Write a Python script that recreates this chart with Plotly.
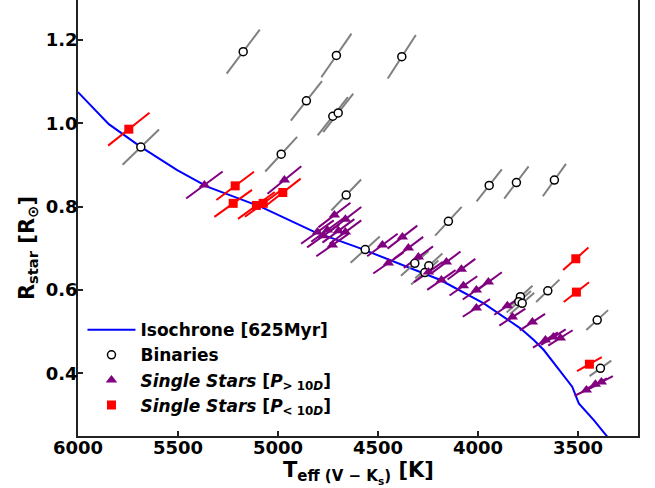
import plotly.graph_objects as go

# Isochrone [625 Myr]
iso_T = [6000, 5846, 5688, 5504, 5354, 5088, 4821, 4588, 4188, 3971, 3788, 3721, 3671, 3529, 3496, 3421, 3340]
iso_R = [1.075, 0.998, 0.944, 0.888, 0.848, 0.800, 0.740, 0.700, 0.624, 0.568, 0.508, 0.480, 0.456, 0.368, 0.328, 0.288, 0.240]

# Binaries
bin_T = [5174, 4708, 4858, 4726, 4699, 5686, 4984, 4659, 4381, 3944, 3808, 3618, 4148,
         4564, 4316, 4246, 4266, 3788, 3796, 3779, 3651, 3404, 3388]
bin_R = [1.172, 1.163, 1.054, 1.017, 1.025, 0.943, 0.926, 0.828, 1.160, 0.851, 0.858, 0.864, 0.765,
         0.697, 0.664, 0.658, 0.642, 0.584, 0.572, 0.568, 0.598, 0.528, 0.412]

# Single stars, P > 10 d
long_T = [5368, 4968, 4718, 4663, 4803, 4753, 4698, 4773, 4728, 4663, 4478, 4378, 4348, 4448, 4298, 4248,
          4158, 4083, 4183, 4073, 4008, 3948, 4008, 3853, 3828, 3728, 3663, 3623, 3588, 3458, 3413, 3383]
long_R = [0.852, 0.864, 0.780, 0.770, 0.739, 0.744, 0.742, 0.730, 0.708, 0.739, 0.708, 0.727, 0.701, 0.665, 0.679, 0.643,
          0.667, 0.650, 0.624, 0.610, 0.600, 0.619, 0.557, 0.562, 0.535, 0.523, 0.480, 0.487, 0.485, 0.360, 0.374, 0.379]

# Single stars, P < 10 d
short_T = [5746, 5214, 5224, 5108, 5074, 4976, 3511, 3508, 3443]
short_R = [0.986, 0.850, 0.808, 0.803, 0.808, 0.834, 0.675, 0.595, 0.422]

# fractional (correlated) uncertainties per group
bin_fT, bin_fR = 0.016, 0.045
long_fT, long_fR = 0.017, 0.038
short_fT, short_fR = 0.018, 0.040

x_ticks = [6000, 5500, 5000, 4500, 4000, 3500]
y_ticks = [0.4, 0.6, 0.8, 1.0, 1.2]


def err_segments(T, R, fT, fR):
    xs, ys = [], []
    for t, r in zip(T, R):
        dT, dR = fT * t, fR * r
        xs += [t + dT, t - dT, None]
        ys += [r - dR, r + dR, None]
    return xs, ys


fig = go.Figure()

fig.add_trace(go.Scatter(x=iso_T, y=iso_R, mode="lines", line=dict(color="#0000ff", width=2),
                         name="Isochrone [625Myr]"))

for T, R, fT, fR, col in [(bin_T, bin_R, bin_fT, bin_fR, "#808080"),
                          (long_T, long_R, long_fT, long_fR, "#800080"),
                          (short_T, short_R, short_fT, short_fR, "#ff0000")]:
    xs, ys = err_segments(T, R, fT, fR)
    fig.add_trace(go.Scatter(x=xs, y=ys, mode="lines", line=dict(color=col, width=2),
                             showlegend=False, hoverinfo="skip"))

fig.add_trace(go.Scatter(x=bin_T, y=bin_R, mode="markers", name="Binaries",
                         marker=dict(symbol="circle", size=8, color="white",
                                     line=dict(color="black", width=1.5))))
fig.add_trace(go.Scatter(x=long_T, y=long_R, mode="markers",
                         name="<i>Single Stars</i> [<i>P</i><sub>&gt; 10<i>D</i></sub>]",
                         marker=dict(symbol="triangle-up", size=10, color="#800080", line=dict(width=0))))
fig.add_trace(go.Scatter(x=short_T, y=short_R, mode="markers",
                         name="<i>Single Stars</i> [<i>P</i><sub>&lt; 10<i>D</i></sub>]",
                         marker=dict(symbol="square", size=9, color="#ff0000", line=dict(width=0))))

axis_common = dict(showline=True, linecolor="#222222", linewidth=1.5, ticks="inside", ticklen=5,
                   tickwidth=1.5, tickcolor="#222222", showgrid=False, zeroline=False,
                   ticklabelstandoff=-5,
                   tickfont=dict(family="DejaVu Sans", size=18, color="black", weight="bold"))

fig.update_layout(
    width=655, height=488,
    margin=dict(l=78, r=17, t=0, b=52),
    paper_bgcolor="white", plot_bgcolor="white",
    font=dict(family="DejaVu Sans", color="black"),
    xaxis=dict(range=[6000, 3200], tickvals=x_ticks, ticktext=[str(v) for v in x_ticks],
               mirror=False, **axis_common),
    yaxis=dict(range=[0.2497, 1.296], tickvals=y_ticks, ticktext=[f"{v:.1f}" for v in y_ticks],
               mirror=True, **axis_common),
    legend=dict(x=0.008, y=0.284, xanchor="left", yanchor="top", bgcolor="rgba(0,0,0,0)",
                font=dict(family="DejaVu Sans", size=17, color="black", weight="bold"),
                itemwidth=48, traceorder="normal"),
    showlegend=True,
    annotations=[
        dict(text="<b>T<sub><span style=\"font-size:15px\">eff (V − K<sub>s</sub>)</span></sub> [K]</b>",
             x=0.5, xref="paper", xanchor="center",
             y=-0.047, yref="paper", yanchor="top", showarrow=False,
             font=dict(family="DejaVu Sans", size=21, color="black")),
        dict(text="<b>R<sub>star</sub> [R<sub>⊙</sub>]</b>", x=-0.09, xref="paper", xanchor="center",
             y=0.43, yref="paper", yanchor="middle", textangle=-90, showarrow=False,
             font=dict(family="DejaVu Sans", size=21, color="black")),
    ],
)

fig.write_html("out.html", post_script="document.body.style.margin='0';",
               config={"displayModeBar": False})
